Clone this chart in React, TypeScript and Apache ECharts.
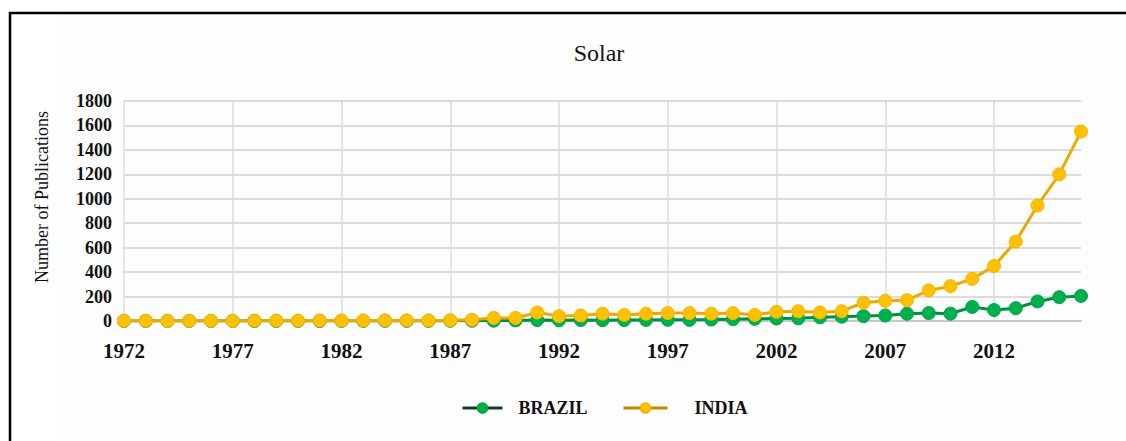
import React, { useEffect, useRef } from "react";
import * as echarts from "echarts";

const years = [
  "1972","1973","1974","1975","1976","1977","1978","1979","1980","1981",
  "1982","1983","1984","1985","1986","1987","1988","1989","1990","1991",
  "1992","1993","1994","1995","1996","1997","1998","1999","2000","2001",
  "2002","2003","2004","2005","2006","2007","2008","2009","2010","2011",
  "2012","2013","2014","2015","2016",
];

const brazil = [
  0, 0, 0, 0, 0, 0, 0, 0, 0, 0, 1, 1, 1, 1, 1, 2, 2, 3,
  5, 8, 6, 8, 7, 8, 9, 10, 10, 12, 15, 18, 20, 22, 30, 35, 40, 45, 60, 65, 60, 115, 90, 105, 160, 195, 205,
];

const india = [
  2, 2, 1, 2, 2, 1, 3, 3, 3, 4, 4, 4, 5, 5, 5, 6,
  10, 25, 25, 70, 40, 45, 60, 50, 60, 65, 65, 60, 65, 50, 75, 80, 70, 80, 150, 165, 170, 250, 285, 345, 450, 650, 945, 1200, 1550,
];

const SERIF = "'Liberation Serif', 'Times New Roman', serif";

export default function App() {
  const ref = useRef<HTMLDivElement>(null);
  useEffect(() => {
    if (!ref.current) return;
    const chart = echarts.init(ref.current, null, { renderer: "svg" });
    chart.setOption({
      animation: false,
      backgroundColor: "#ffffff",
      title: {
        text: "Solar",
        left: 594,
        textAlign: "center",
        top: 36,
        textStyle: { fontFamily: SERIF, fontSize: 24, fontWeight: "normal", color: "#111" },
      },
      graphic: [
        { type: "rect", left: 58, top: 15, shape: { width: 1062, height: 426 }, style: { fill: "#fdfdfd" }, z: -10 },
        { type: "line", shape: { x1: 9, y1: 13, x2: 1126, y2: 13 }, style: { stroke: "#000", lineWidth: 2.5 } },
        { type: "line", shape: { x1: 10, y1: 12, x2: 10, y2: 441 }, style: { stroke: "#000", lineWidth: 2.5 } },
        {
          type: "text",
          x: 42,
          y: 197,
          rotation: Math.PI / 2,
          style: {
            text: "Number of Publications",
            fontFamily: SERIF,
            fontSize: 18,
            fill: "#111",
            textAlign: "center",
            textVerticalAlign: "middle",
          },
        },
      ],
      legend: [
        {
          left: 461,
          top: 399,
          padding: 0,
          itemWidth: 40,
          itemHeight: 12,
          data: [{ name: "BRAZIL", lineStyle: { color: "#163d22", width: 3 } }],
          textStyle: { fontFamily: SERIF, fontSize: 18, fontWeight: "bold", color: "#111", padding: [0, 0, 0, 11] },
        },
        {
          left: 622,
          top: 399,
          padding: 0,
          itemWidth: 44,
          itemHeight: 12,
          data: [{ name: "INDIA", lineStyle: { color: "#c08a00", width: 3 } }],
          textStyle: { fontFamily: SERIF, fontSize: 18, fontWeight: "bold", color: "#111", padding: [0, 0, 0, 22] },
        },
      ],
      grid: { left: 124, right: 45, top: 101, bottom: 120, containLabel: false },
      xAxis: {
        type: "category",
        data: years,
        boundaryGap: false,
        axisLine: { lineStyle: { color: "#c8c8c8", width: 2 } },
        axisTick: { show: false },
        axisLabel: {
          interval: 4,
          margin: 19,
          fontFamily: SERIF,
          fontSize: 21,
          fontWeight: "bold",
          color: "#111",
        },
        splitLine: { show: true, interval: 4, lineStyle: { color: "#dcdcdc", width: 1.5 } },
      },
      yAxis: {
        type: "value",
        min: 0,
        max: 1800,
        interval: 200,
        axisLine: { show: false },
        axisTick: { show: false },
        axisLabel: {
          margin: 12,
          fontFamily: SERIF,
          fontSize: 18,
          fontWeight: "bold",
          color: "#111",
          formatter: (v: number) => String(v),
        },
        splitLine: { lineStyle: { color: "#dcdcdc", width: 2 } },
      },
      series: [
        {
          name: "BRAZIL",
          type: "line",
          data: brazil,
          symbol: "circle",
          symbolSize: 13,
          lineStyle: { color: "#00903c", width: 3 },
          itemStyle: { color: "#00b04f", borderColor: "#00a545", borderWidth: 1 },
          z: 2,
        },
        {
          name: "INDIA",
          type: "line",
          data: india,
          symbol: "circle",
          symbolSize: 13,
          lineStyle: { color: "#eaaa00", width: 3 },
          itemStyle: { color: "#ffc000", borderColor: "#f5b800", borderWidth: 1 },
          z: 3,
        },
      ],
    });
    return () => chart.dispose();
  }, []);
  return (
    <div
      ref={ref}
      style={{ position: "absolute", left: 0, top: 0, width: 1126, height: 441 }}
    />
  );
}
